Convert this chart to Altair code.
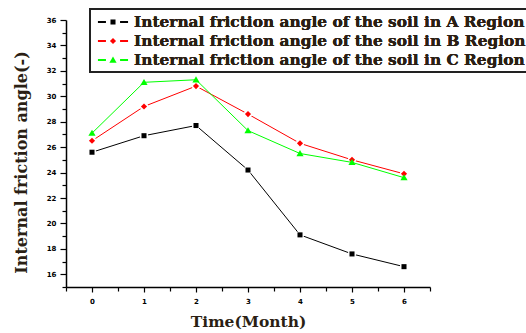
import altair as alt
import pandas as pd

months = [0, 1, 2, 3, 4, 5, 6]
series_names = [
    "Internal friction angle of the soil in A Region",
    "Internal friction angle of the soil in B Region",
    "Internal friction angle of the soil in C Region",
]
region_a = [25.6, 26.9, 27.7, 24.2, 19.1, 17.6, 16.6]
region_b = [26.5, 29.2, 30.8, 28.6, 26.3, 25.0, 23.9]
region_c = [27.1, 31.1, 31.3, 27.3, 25.5, 24.8, 23.6]
colors = ["#000000", "#ff0000", "#00ff00"]
y_major = [16, 18, 20, 22, 24, 26, 28, 30, 32, 34, 36]
y_minor = [15, 17, 19, 21, 23, 25, 27, 29, 31, 33, 35]
x_major = [0, 1, 2, 3, 4, 5, 6]
x_minor = [-0.5, 0.5, 1.5, 2.5, 3.5, 4.5, 5.5, 6.5]

rows = []
for name, vals in zip(series_names, [region_a, region_b, region_c]):
    for m, v in zip(months, vals):
        rows.append({"month": m, "angle": v, "series": name, "series_pt": name + " "})
df = pd.DataFrame(rows)

pt_names = [n + " " for n in series_names]
shape_paths = [
    "M-0.28,-0.28H0.28V0.28H-0.28Z",
    "M0,-0.34L0.34,0L0,0.34L-0.34,0Z",
    "M0,-0.38L0.4,0.3H-0.4Z",
]

TXT = "#2b1f14"
SERIF = "DejaVu Serif"

xscale = alt.Scale(domain=[-0.5, 6.5], nice=False, zero=False)
yscale = alt.Scale(domain=[15, 36], nice=False, zero=False)

legend_common = dict(
    orient="none", legendX=24, legendY=-11, title=None,
    symbolSize=324, symbolStrokeWidth=1.5, symbolOffset=10,
    labelFont=SERIF, labelFontSize=15.4, labelFontWeight="bold",
    labelColor=TXT, labelOffset=11, labelLimit=1000,
    padding=3, rowPadding=0,
)

x_major_axis = alt.Axis(orient="bottom", values=x_major, format="d",
                        labelFont="DejaVu Sans", labelFontSize=7, labelFontWeight="bold",
                        labelColor="black", labelPadding=5, tickSize=5, tickColor="black",
                        domainColor="black", domainWidth=1.5, tickWidth=1.2, grid=False,
                        title="Time(Month)", titleFont=SERIF, titleFontSize=15.5,
                        titleFontWeight="bold", titleColor=TXT, titleX=182, titleY=39,
                        titleBaseline="alphabetic", titleAlign="center")
y_major_axis = alt.Axis(orient="left", values=y_major, format="d",
                        labelFont="DejaVu Sans", labelFontSize=7, labelFontWeight="bold",
                        labelColor="black", labelPadding=4, tickSize=6, tickColor="black",
                        domainColor="black", domainWidth=1.5, tickWidth=1.2, grid=False,
                        title="Internal friction angle(-)", titleFont=SERIF, titleFontSize=16,
                        titleFontWeight="bold", titleColor=TXT, titleAngle=270,
                        titleX=-40, titleY=142, titleBaseline="alphabetic",
                        titleAlign="center")
x_minor_axis = alt.Axis(orient="bottom", values=x_minor, labels=False, domain=False,
                        tickSize=4, tickColor="black", tickWidth=1.2, grid=False, title=None)
y_minor_axis = alt.Axis(orient="left", values=y_minor, labels=False, domain=False,
                        tickSize=4, tickColor="black", tickWidth=1.2, grid=False, title=None)

color_enc = alt.Color("series:N", scale=alt.Scale(domain=series_names, range=colors),
                      legend=alt.Legend(symbolType="M-1.67,0H-0.8M0.8,0H1.67",
                                        strokeColor="#222222", **legend_common))

base = alt.Chart(df)


def line_layer(name, first=False):
    return base.transform_filter(alt.datum.series == name).mark_line(strokeWidth=1).encode(
        x=alt.X("month:Q", scale=xscale, axis=x_major_axis if first else None),
        y=alt.Y("angle:Q", scale=yscale, axis=y_major_axis if first else None),
        color=color_enc,
    )


def knock_layer(name):
    return base.transform_filter(alt.datum.series == name).mark_point(
        filled=True, shape="circle", size=70, color="white", opacity=1
    ).encode(
        x=alt.X("month:Q", scale=xscale, axis=None),
        y=alt.Y("angle:Q", scale=yscale, axis=None),
    )


pt_legend = alt.Legend(labelOpacity=0, **legend_common)
points = base.mark_point(filled=True, size=324, opacity=1).encode(
    x=alt.X("month:Q", scale=xscale, axis=x_minor_axis),
    y=alt.Y("angle:Q", scale=yscale, axis=y_minor_axis),
    fill=alt.Fill("series_pt:N", scale=alt.Scale(domain=pt_names, range=colors), legend=pt_legend),
    shape=alt.Shape("series_pt:N", scale=alt.Scale(domain=pt_names, range=shape_paths), legend=pt_legend),
)

chart = alt.layer(
    line_layer(series_names[0], first=True),
    knock_layer(series_names[0]),
    line_layer(series_names[1]),
    knock_layer(series_names[1]),
    line_layer(series_names[2]),
    points,
).resolve_scale(
    x="shared", y="shared"
).resolve_axis(
    x="independent", y="independent"
).resolve_legend(
    color="independent", fill="independent", shape="independent"
).properties(
    width=364, height=267,
    autosize=alt.AutoSizeParams(type="none"),
    padding={"left": 66, "top": 20, "right": 96, "bottom": 46},
    background="white",
).configure_view(stroke=None).configure_legend(strokeWidth=2)

chart.save("out.html", embed_options={"renderer": "svg", "actions": False})
